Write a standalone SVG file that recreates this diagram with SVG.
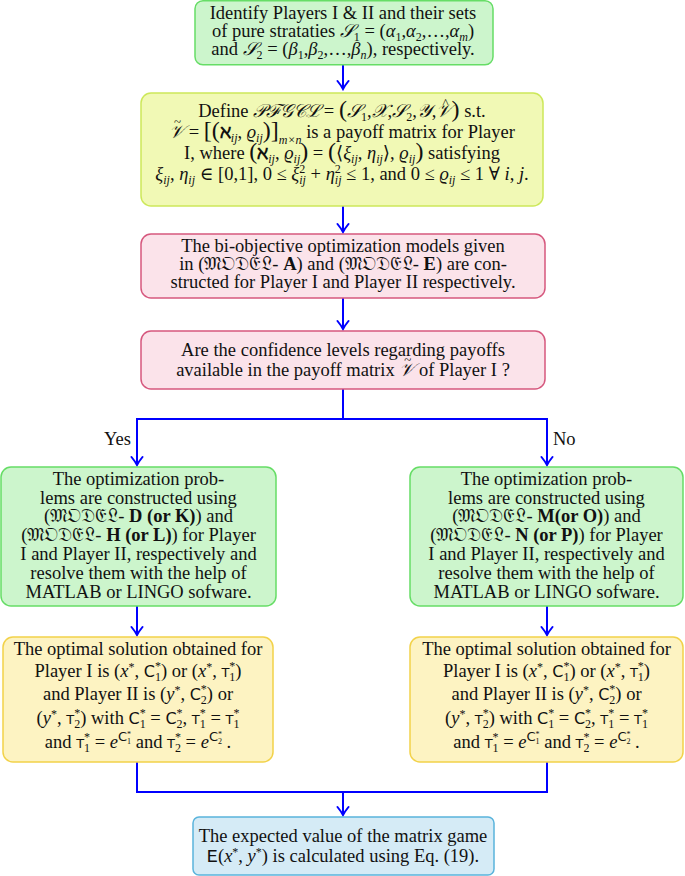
<svg xmlns="http://www.w3.org/2000/svg" width="685" height="876" viewBox="0 0 685 876">
<defs>
<style>
.t{font-family:"Liberation Serif","DejaVu Serif",serif;font-size:18.5px;fill:#111;text-anchor:middle}
.i{font-style:italic}
.b{font-weight:bold}
.sb{font-size:12px}
.big{font-size:24px}
.acc{font-size:13px;font-style:normal}
.sf{font-family:"DejaVu Sans","Liberation Sans",sans-serif;font-size:16px;font-style:normal}
.tsym{font-family:"DejaVu Sans","Liberation Sans",sans-serif;font-size:13px;font-style:normal}
.tt{font-family:"Liberation Mono","DejaVu Sans Mono",monospace}
.fk{font-family:"DejaVu Serif","Noto Sans",serif}
.lbl{font-family:"Liberation Serif","DejaVu Serif",serif;font-size:18.5px;fill:#111}
.g{fill:#ccf5cc;stroke:#66dd66;stroke-width:1.5}
.yg{fill:#f1f9b5;stroke:#cde85a;stroke-width:1.5}
.pk{fill:#fbe3ea;stroke:#d6587e;stroke-width:1.5}
.yl{fill:#fdf3c2;stroke:#f2d24a;stroke-width:1.5}
.bl{fill:#d5ebf6;stroke:#5ab4dc;stroke-width:1.5}
.c{stroke:#0000ff;stroke-width:2;fill:none}
</style>
<marker id="ah" viewBox="-10 -7 12 14" refX="0" refY="0" markerWidth="12" markerHeight="14" markerUnits="userSpaceOnUse" orient="auto">
<path d="M-8,-5.5 Q-3,-1.5 0,0 Q-3,1.5 -8,5.5" fill="none" stroke="#0000ff" stroke-width="2" stroke-linecap="round"/>
</marker>
</defs>
<rect width="685" height="876" fill="#ffffff"/>

<g id="connectors">
<path class="c" d="M343,65 V89" marker-end="url(#ah)"/>
<path class="c" d="M343,206 V232" marker-end="url(#ah)"/>
<path class="c" d="M343,298 V329" marker-end="url(#ah)"/>
<path class="c" d="M343,389 V419 M136,419 H548"/>
<path class="c" d="M137,419 V465" marker-end="url(#ah)"/>
<path class="c" d="M547,419 V465" marker-end="url(#ah)"/>
<path class="c" d="M137,606 V635" marker-end="url(#ah)"/>
<path class="c" d="M547,606 V635" marker-end="url(#ah)"/>
<path class="c" d="M137,762 V792 H547 V762"/>
<path class="c" d="M343,792 V815" marker-end="url(#ah)"/>
<text class="lbl" x="131" y="445" text-anchor="end">Yes</text>
<text class="lbl" x="553" y="445">No</text>
</g>

<g id="n1">
<rect class="g" x="195" y="0.75" width="298" height="64" rx="8"/>
<text class="t" x="343" y="19">Identify Players I &amp; II and their sets</text>
<text class="t" x="343" y="37">of pure strataties <tspan class="i">𝒮</tspan><tspan class="sb" dy="4">1</tspan><tspan dy="-4"> = (</tspan><tspan class="i">α</tspan><tspan class="sb" dy="4">1</tspan><tspan dy="-4">,</tspan><tspan class="i">α</tspan><tspan class="sb" dy="4">2</tspan><tspan dy="-4">,…,</tspan><tspan class="i">α</tspan><tspan class="sb i" dy="4">m</tspan><tspan dy="-4">)</tspan></text>
<text class="t" x="343" y="55">and <tspan class="i">𝒮</tspan><tspan class="sb" dy="4">2</tspan><tspan dy="-4"> = (</tspan><tspan class="i">β</tspan><tspan class="sb" dy="4">1</tspan><tspan dy="-4">,</tspan><tspan class="i">β</tspan><tspan class="sb" dy="4">2</tspan><tspan dy="-4">,…,</tspan><tspan class="i">β</tspan><tspan class="sb i" dy="4">n</tspan><tspan dy="-4">), respectively.</tspan></text>
</g>

<g id="n2">
<rect class="yg" x="141" y="93" width="402" height="113" rx="10"/>
<text class="t" x="342" y="117">Define <tspan class="i">𝒫ℱ𝒢𝒞ℒ</tspan> = <tspan class="big">(</tspan><tspan class="i">𝒮</tspan><tspan class="sb" dy="4">1</tspan><tspan dy="-4">,</tspan><tspan class="i">𝒳</tspan>,<tspan class="i">𝒮</tspan><tspan class="sb" dy="4">2</tspan><tspan dy="-4">,</tspan><tspan class="i">𝒴</tspan>,<tspan class="i">𝒱</tspan><tspan class="acc" dx="-9" dy="-10">^</tspan><tspan class="big" dx="3" dy="10">)</tspan> s.t.</text>
<text class="t" x="342" y="138"><tspan class="i">𝒱</tspan><tspan class="acc" dx="-10" dy="-12">~</tspan><tspan dx="3" dy="12"> = </tspan><tspan class="big">[(</tspan><tspan class="b">ℵ</tspan><tspan class="sb i" dy="4">ij</tspan><tspan dy="-4">, </tspan><tspan class="i">ϱ</tspan><tspan class="sb i" dy="4">ij</tspan><tspan dy="-4" class="big">)]</tspan><tspan class="sb i" dy="6">m×n</tspan><tspan dy="-6"> is a payoff matrix for Player</tspan></text>
<text class="t" x="342" y="159">I, where <tspan class="big">(</tspan><tspan class="b">ℵ</tspan><tspan class="sb i" dy="4">ij</tspan><tspan dy="-4">, </tspan><tspan class="i">ϱ</tspan><tspan class="sb i" dy="4">ij</tspan><tspan dy="-4" class="big">)</tspan> = <tspan class="big">(</tspan>⟨<tspan class="i">ξ</tspan><tspan class="sb i" dy="4">ij</tspan><tspan dy="-4">, </tspan><tspan class="i">η</tspan><tspan class="sb i" dy="4">ij</tspan><tspan dy="-4">⟩, </tspan><tspan class="i">ϱ</tspan><tspan class="sb i" dy="4">ij</tspan><tspan dy="-4" class="big">)</tspan> satisfying</text>
<text class="t" x="342" y="180"><tspan class="i">ξ</tspan><tspan class="sb i" dy="4">ij</tspan><tspan dy="-4">, </tspan><tspan class="i">η</tspan><tspan class="sb i" dy="4">ij</tspan><tspan dy="-4"> ∈ [0,1], 0 ≤ </tspan><tspan class="i">ξ</tspan><tspan class="sb" dy="-7">2</tspan><tspan class="sb i" dx="-6" dy="11">ij</tspan><tspan dy="-4"> + </tspan><tspan class="i">η</tspan><tspan class="sb" dy="-7">2</tspan><tspan class="sb i" dx="-6" dy="11">ij</tspan><tspan dy="-4"> ≤ 1, and 0 ≤ </tspan><tspan class="i">ϱ</tspan><tspan class="sb i" dy="4">ij</tspan><tspan dy="-4"> ≤ 1 ∀ </tspan><tspan class="i">i</tspan>, <tspan class="i">j</tspan>.</text>
</g>

<g id="n3">
<rect class="pk" x="141" y="234" width="404" height="64" rx="10"/>
<text class="t" x="343" y="252">The bi-objective optimization models given</text>
<text class="t" x="343" y="270">in (<tspan class="fk">𝔐𝔒𝔇𝔈𝔏</tspan>- <tspan class="b">A</tspan>) and (<tspan class="fk">𝔐𝔒𝔇𝔈𝔏</tspan>- <tspan class="b">E</tspan>) are con-</text>
<text class="t" x="343" y="288">structed for Player I and Player II respectively.</text>
</g>

<g id="n4">
<rect class="pk" x="141" y="331" width="404" height="58" rx="10"/>
<text class="t" x="343" y="356">Are the confidence levels regarding payoffs</text>
<text class="t" x="343" y="376">available in the payoff matrix <tspan class="i">𝒱</tspan><tspan class="acc" dx="-10" dy="-12">~</tspan><tspan dx="3" dy="12"> of Player I ?</tspan></text>
</g>

<g id="n5">
<rect class="g" x="1" y="467" width="275" height="139" rx="10"/>
<text class="t" x="138.5" y="485">The optimization prob-</text>
<text class="t" x="138.5" y="504">lems are constructed using</text>
<text class="t" x="138.5" y="522">(<tspan class="fk">𝔐𝔒𝔇𝔈𝔏</tspan>- <tspan class="b">D (or K)</tspan>) and</text>
<text class="t" x="138.5" y="541">(<tspan class="fk">𝔐𝔒𝔇𝔈𝔏</tspan>- <tspan class="b">H (or L)</tspan>) for Player</text>
<text class="t" x="138.5" y="560">I and Player II, respectively and</text>
<text class="t" x="138.5" y="579">resolve them with the help of</text>
<text class="t" x="138.5" y="598">MATLAB or LINGO sofware.</text>
</g>

<g id="n6">
<rect class="g" x="410" y="467" width="273" height="139" rx="10"/>
<text class="t" x="546.5" y="485">The optimization prob-</text>
<text class="t" x="546.5" y="504">lems are constructed using</text>
<text class="t" x="546.5" y="522">(<tspan class="fk">𝔐𝔒𝔇𝔈𝔏</tspan>- <tspan class="b">M(or O)</tspan>) and</text>
<text class="t" x="546.5" y="541">(<tspan class="fk">𝔐𝔒𝔇𝔈𝔏</tspan>- <tspan class="b">N (or P)</tspan>) for Player</text>
<text class="t" x="546.5" y="560">I and Player II, respectively and</text>
<text class="t" x="546.5" y="579">resolve them with the help of</text>
<text class="t" x="546.5" y="598">MATLAB or LINGO sofware.</text>
</g>

<g id="n7">
<rect class="yl" x="3" y="637" width="270" height="125" rx="10"/>
<text class="t" x="138" y="655">The optimal solution obtained for</text>
<text class="t" x="138" y="677">Player I is (<tspan class="i">x</tspan><tspan class="sb" dy="-6">*</tspan><tspan dy="6">, </tspan><tspan class="sf">C</tspan><tspan class="sb" dy="-7">*</tspan><tspan class="sb" dx="-6" dy="11">1</tspan><tspan dy="-4">) or (</tspan><tspan class="i">x</tspan><tspan class="sb" dy="-6">*</tspan><tspan dy="6">, </tspan><tspan class="tsym">T</tspan><tspan class="sb" dy="-7">*</tspan><tspan class="sb" dx="-6" dy="11">1</tspan><tspan dy="-4">)</tspan></text>
<text class="t" x="138" y="700">and Player II is (<tspan class="i">y</tspan><tspan class="sb" dy="-6">*</tspan><tspan dy="6">, </tspan><tspan class="sf">C</tspan><tspan class="sb" dy="-7">*</tspan><tspan class="sb" dx="-6" dy="11">2</tspan><tspan dy="-4">) or</tspan></text>
<text class="t" x="138" y="724">(<tspan class="i">y</tspan><tspan class="sb" dy="-6">*</tspan><tspan dy="6">, </tspan><tspan class="tsym">T</tspan><tspan class="sb" dy="-7">*</tspan><tspan class="sb" dx="-6" dy="11">2</tspan><tspan dy="-4">) with </tspan><tspan class="sf">C</tspan><tspan class="sb" dy="-7">*</tspan><tspan class="sb" dx="-6" dy="11">1</tspan><tspan dy="-4"> = </tspan><tspan class="sf">C</tspan><tspan class="sb" dy="-7">*</tspan><tspan class="sb" dx="-6" dy="11">2</tspan><tspan dy="-4">, </tspan><tspan class="tsym">T</tspan><tspan class="sb" dy="-7">*</tspan><tspan class="sb" dx="-6" dy="11">1</tspan><tspan dy="-4"> = </tspan><tspan class="tsym">T</tspan><tspan class="sb" dy="-7">*</tspan><tspan class="sb" dx="-6" dy="11">1</tspan><tspan dy="-4"></tspan></text>
<text class="t" x="138" y="748">and <tspan class="tsym">T</tspan><tspan class="sb" dy="-7">*</tspan><tspan class="sb" dx="-6" dy="11">1</tspan><tspan dy="-4"> = </tspan><tspan class="i">e</tspan><tspan class="tsym" dy="-7">C</tspan><tspan font-size="8" dy="-4">*</tspan><tspan font-size="8" dx="-4" dy="7">1</tspan><tspan dy="4"> and </tspan><tspan class="tsym">T</tspan><tspan class="sb" dy="-7">*</tspan><tspan class="sb" dx="-6" dy="11">2</tspan><tspan dy="-4"> = </tspan><tspan class="i">e</tspan><tspan class="tsym" dy="-7">C</tspan><tspan font-size="8" dy="-4">*</tspan><tspan font-size="8" dx="-4" dy="7">2</tspan><tspan dy="4"> .</tspan></text>
</g>

<g id="n8">
<rect class="yl" x="410" y="637" width="273" height="125" rx="10"/>
<text class="t" x="546.5" y="655">The optimal solution obtained for</text>
<text class="t" x="546.5" y="677">Player I is (<tspan class="i">x</tspan><tspan class="sb" dy="-6">*</tspan><tspan dy="6">, </tspan><tspan class="sf">C</tspan><tspan class="sb" dy="-7">*</tspan><tspan class="sb" dx="-6" dy="11">1</tspan><tspan dy="-4">) or (</tspan><tspan class="i">x</tspan><tspan class="sb" dy="-6">*</tspan><tspan dy="6">, </tspan><tspan class="tsym">T</tspan><tspan class="sb" dy="-7">*</tspan><tspan class="sb" dx="-6" dy="11">1</tspan><tspan dy="-4">)</tspan></text>
<text class="t" x="546.5" y="700">and Player II is (<tspan class="i">y</tspan><tspan class="sb" dy="-6">*</tspan><tspan dy="6">, </tspan><tspan class="sf">C</tspan><tspan class="sb" dy="-7">*</tspan><tspan class="sb" dx="-6" dy="11">2</tspan><tspan dy="-4">) or</tspan></text>
<text class="t" x="546.5" y="724">(<tspan class="i">y</tspan><tspan class="sb" dy="-6">*</tspan><tspan dy="6">, </tspan><tspan class="tsym">T</tspan><tspan class="sb" dy="-7">*</tspan><tspan class="sb" dx="-6" dy="11">2</tspan><tspan dy="-4">) with </tspan><tspan class="sf">C</tspan><tspan class="sb" dy="-7">*</tspan><tspan class="sb" dx="-6" dy="11">1</tspan><tspan dy="-4"> = </tspan><tspan class="sf">C</tspan><tspan class="sb" dy="-7">*</tspan><tspan class="sb" dx="-6" dy="11">2</tspan><tspan dy="-4">, </tspan><tspan class="tsym">T</tspan><tspan class="sb" dy="-7">*</tspan><tspan class="sb" dx="-6" dy="11">1</tspan><tspan dy="-4"> = </tspan><tspan class="tsym">T</tspan><tspan class="sb" dy="-7">*</tspan><tspan class="sb" dx="-6" dy="11">1</tspan><tspan dy="-4"></tspan></text>
<text class="t" x="546.5" y="748">and <tspan class="tsym">T</tspan><tspan class="sb" dy="-7">*</tspan><tspan class="sb" dx="-6" dy="11">1</tspan><tspan dy="-4"> = </tspan><tspan class="i">e</tspan><tspan class="tsym" dy="-7">C</tspan><tspan font-size="8" dy="-4">*</tspan><tspan font-size="8" dx="-4" dy="7">1</tspan><tspan dy="4"> and </tspan><tspan class="tsym">T</tspan><tspan class="sb" dy="-7">*</tspan><tspan class="sb" dx="-6" dy="11">2</tspan><tspan dy="-4"> = </tspan><tspan class="i">e</tspan><tspan class="tsym" dy="-7">C</tspan><tspan font-size="8" dy="-4">*</tspan><tspan font-size="8" dx="-4" dy="7">2</tspan><tspan dy="4"> .</tspan></text>
</g>

<g id="n9">
<rect class="bl" x="193" y="817" width="301" height="58" rx="6"/>
<text class="t" x="343" y="842">The expected value of the matrix game</text>
<text class="t" x="343" y="862"><tspan class="tt">E</tspan>(<tspan class="i">x</tspan><tspan class="sb" dy="-6">*</tspan><tspan dy="6">, </tspan><tspan class="i">y</tspan><tspan class="sb" dy="-6">*</tspan><tspan dy="6">) is calculated using Eq. (19).</tspan></text>
</g>
</svg>
